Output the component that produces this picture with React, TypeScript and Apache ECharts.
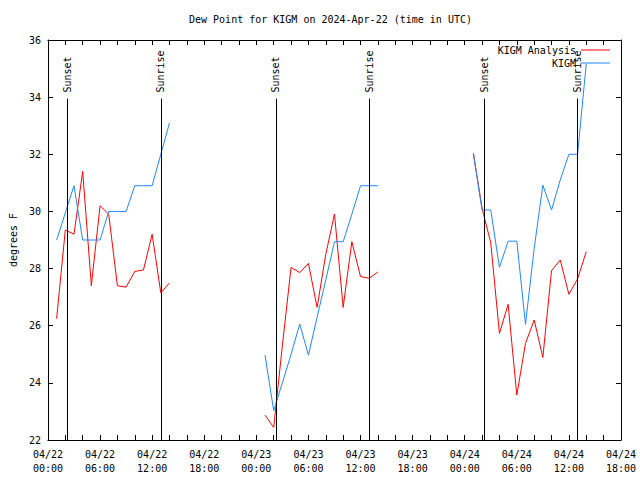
import React, { useEffect, useRef } from "react";
import * as echarts from "echarts";

// ---- data ----
const START = Date.UTC(2024, 3, 22); // 2024-04-22 00:00 UTC
const HOUR = 3600000;
const dayOffsetHours = [0, 24, 48];
const obsHours = [1, 2, 3, 4, 5, 6, 7, 8, 9, 10, 11, 12, 13, 14];

const analysisDay1 = [26.25, 29.35, 29.2, 31.4, 27.4, 30.2, 29.9, 27.4, 27.35, 27.9, 27.95, 29.2, 27.15, 27.5];
const analysisDay2 = [22.87, 22.44, 25.3, 28.04, 27.86, 28.18, 26.64, 28.5, 29.91, 26.64, 28.94, 27.72, 27.66, 27.88];
const analysisDay3 = [32.03, 30.11, 28.9, 25.73, 26.75, 23.57, 25.38, 26.2, 24.89, 27.93, 28.3, 27.1, 27.64, 28.59];

const kigmDay1 = [29.0, 29.95, 30.9, 29.0, 29.0, 29.0, 30.0, 30.0, 30.0, 30.9, 30.9, 30.9, 32.0, 33.1];
const kigmDay2 = [24.97, 23.03, 24.0, 25.0, 26.06, 24.97, 26.3, 27.6, 28.94, 28.94, 29.9, 30.9, 30.9, 30.9];
const kigmDay3 = [32.03, 30.05, 30.05, 28.04, 28.96, 28.96, 26.05, 28.7, 30.92, 30.05, 31.1, 32.0, 32.0, 35.18];

const sunsetHours = [2.25, 26.25, 50.25];
const sunriseHours = [13.0, 37.0, 61.0];
const SUN_LINE_TOP = 33.95;

const X_MIN_HOURS = 0;
const X_MAX_HOURS = 66;
const Y_MIN = 22;
const Y_MAX = 36;

const FONT = "DejaVu Sans Mono";

function buildSeries(days: number[][]) {
  const out: any[] = [];
  days.forEach((vals, d) => {
    obsHours.forEach((h, i) => {
      out.push([START + (dayOffsetHours[d] + h) * HOUR, vals[i]]);
    });
    out.push([START + (dayOffsetHours[d] + 15) * HOUR, null]);
  });
  return out;
}

function pad(n: number) {
  return n < 10 ? "0" + n : "" + n;
}

export default function App() {
  const ref = useRef<HTMLDivElement>(null);
  useEffect(() => {
    if (!ref.current) return;
    const chart = echarts.init(ref.current, null, { renderer: "svg" });

    const sunPoints: any[] = [];
    const sunLines: any[] = [];
    sunsetHours.forEach((h) => {
      const t = START + h * HOUR;
      sunPoints.push({ value: [t, SUN_LINE_TOP], name: "Sunset" });
      sunLines.push([{ coord: [t, Y_MIN] }, { coord: [t, SUN_LINE_TOP] }]);
    });
    sunriseHours.forEach((h) => {
      const t = START + h * HOUR;
      sunPoints.push({ value: [t, SUN_LINE_TOP], name: "Sunrise" });
      sunLines.push([{ coord: [t, Y_MIN] }, { coord: [t, SUN_LINE_TOP] }]);
    });

    const xBase = {
      type: "value",
      min: START + X_MIN_HOURS * HOUR,
      max: START + X_MAX_HOURS * HOUR,
      interval: 2 * HOUR,
      splitLine: { show: false },
      axisLine: { show: true, lineStyle: { color: "#000", width: 1 } },
      axisTick: { show: true, inside: true, length: 5, lineStyle: { color: "#000" } },
    };
    const yBase = {
      type: "value",
      min: Y_MIN,
      max: Y_MAX,
      interval: 2,
      splitLine: { show: false },
      axisLine: { show: true, lineStyle: { color: "#000", width: 1 } },
      axisTick: { show: true, inside: true, length: 5, lineStyle: { color: "#000" } },
    };

    chart.setOption({
      animation: false,
      backgroundColor: "#fff",
      textStyle: { fontFamily: FONT },
      title: {
        text: "Dew Point for KIGM on 2024-Apr-22 (time in UTC)",
        left: 189,
        top: 14,
        padding: 0,
        textStyle: { fontFamily: FONT, fontSize: 10, fontWeight: "normal", color: "#000" },
      },
      legend: {
        data: ["KIGM Analysis", "KIGM"],
        orient: "vertical",
        align: "right",
        right: 30,
        top: 44,
        padding: 0,
        icon: "rect",
        itemWidth: 29,
        itemHeight: 1,
        itemGap: 1,
        textStyle: { fontFamily: FONT, fontSize: 10, color: "#000", lineHeight: 12 },
      },
      grid: { left: 46, right: 19, top: 40, height: 400 },
      xAxis: [
        {
          ...xBase,
          position: "bottom",
          axisLabel: {
            show: true,
            margin: 7,
            fontFamily: FONT,
            fontSize: 10,
            color: "#000",
            lineHeight: 14,
            formatter: (v: number) => {
              const hrs = Math.round((v - START) / HOUR);
              if (hrs % 6 !== 0) return "";
              const d = new Date(v);
              return (
                pad(d.getUTCMonth() + 1) + "/" + pad(d.getUTCDate()) + "\n" +
                pad(d.getUTCHours()) + ":" + pad(d.getUTCMinutes())
              );
            },
          },
        },
        { ...xBase, position: "top", axisLabel: { show: false } },
      ],
      yAxis: [
        {
          ...yBase,
          position: "left",
          name: "degrees F",
          nameLocation: "middle",
          nameGap: 28,
          nameRotate: 90,
          nameTextStyle: { fontFamily: FONT, fontSize: 10, color: "#000" },
          axisLabel: { show: true, margin: 7, fontFamily: FONT, fontSize: 10, color: "#000" },
        },
        { ...yBase, position: "right", axisLabel: { show: false } },
      ],
      series: [
        {
          name: "KIGM Analysis",
          type: "line",
          data: buildSeries([analysisDay1, analysisDay2, analysisDay3]),
          symbol: "none",
          showSymbol: false,
          connectNulls: false,
          lineStyle: { color: "#ff0000", width: 1 },
          itemStyle: { color: "#ff0000" },
        },
        {
          name: "KIGM",
          type: "line",
          data: buildSeries([kigmDay1, kigmDay2, kigmDay3]),
          symbol: "none",
          showSymbol: false,
          connectNulls: false,
          lineStyle: { color: "#1e88ff", width: 1 },
          itemStyle: { color: "#1e88ff" },
        },
        {
          name: "sun",
          type: "scatter",
          data: sunPoints,
          symbolSize: 0,
          silent: true,
          itemStyle: { opacity: 1 },
          label: {
            show: true,
            formatter: (p: any) => p.name,
            position: "top",
            distance: 6,
            rotate: 90,
            align: "left",
            verticalAlign: "middle",
            fontFamily: FONT,
            fontSize: 10,
            color: "#000",
            opacity: 1,
          },
          markLine: {
            silent: true,
            symbol: "none",
            label: { show: false },
            lineStyle: { color: "#000", width: 1, type: "solid", opacity: 1 },
            data: sunLines,
          },
        },
      ],
    });
    return () => chart.dispose();
  }, []);
  return <div ref={ref} style={{ width: 640, height: 480, position: "absolute", left: 0, top: 0 }} />;
}
